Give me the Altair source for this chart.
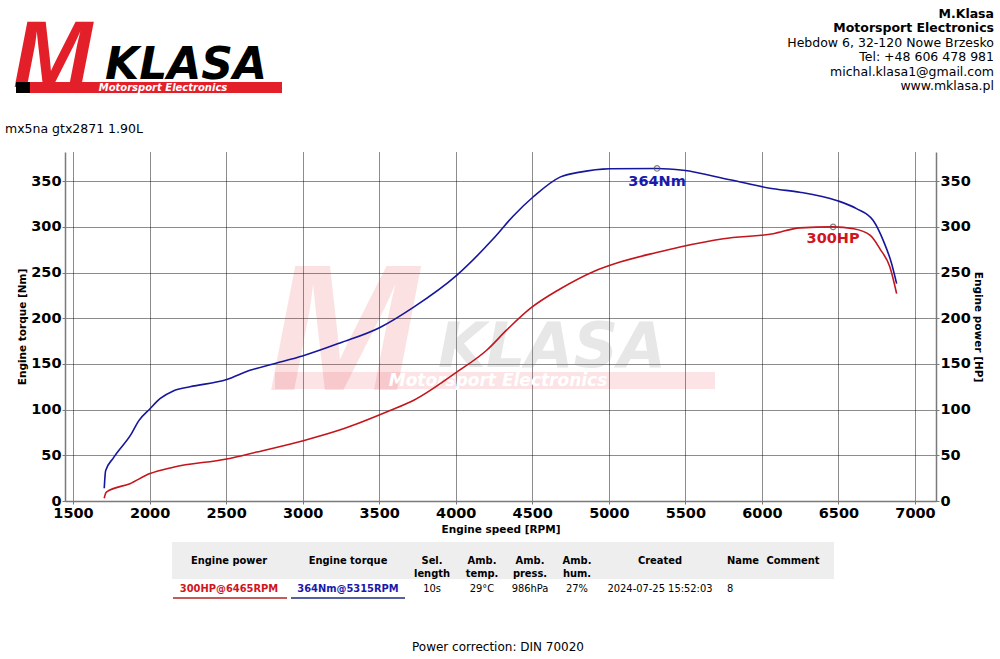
import altair as alt
import pandas as pd

# ---------------- data ----------------
rpm_torque = [1704, 1713, 1763, 1883, 1930, 2003, 2068, 2155, 2264, 2504, 2656, 2808, 3004, 3244,
              3505, 3723, 4006, 4245, 4376, 4507, 4681, 4812, 5007, 5315, 5486, 5791, 6074, 6248,
              6488, 6618, 6727, 6793, 6847, 6880]
torque_nm = [14, 33, 47, 74, 88, 101, 112, 120.5, 125, 133, 143, 150, 159, 173,
             190, 212, 247, 287, 312, 333, 354.5, 360, 363.6, 364, 362, 351.6, 341.7, 338,
             329, 320, 307, 285, 260, 238]

rpm_power = [1704, 1712, 1720, 1872, 2003, 2155, 2504, 2700, 3004, 3266, 3571, 3723, 4006, 4202,
             4332, 4485, 4681, 4898, 5073, 5312, 5465, 5748, 6074, 6248, 6465, 6599, 6708, 6771,
             6836, 6880]
power_hp = [3, 8, 10, 19, 30, 37, 46, 53.6, 66, 79, 99, 110, 141, 165,
            187, 210.5, 232, 251, 261.5, 272, 278, 287, 292.6, 299, 300, 298, 290.7, 276,
            256, 227]

peak_torque_rpm = [5315]
peak_torque_val = [364]
peak_torque_label = ["364Nm"]
peak_power_rpm = [6465]
peak_power_val = [300]
peak_power_label = ["300HP"]

x_ticks = [1500, 2000, 2500, 3000, 3500, 4000, 4500, 5000, 5500, 6000, 6500, 7000]
y_ticks = [0, 50, 100, 150, 200, 250, 300, 350]

header_bold = ["M.Klasa", "Motorsport Electronics"]
header_plain = ["Hebdow 6, 32-120 Nowe Brzesko", "Tel: +48 606 478 981",
                "michal.klasa1@gmail.com", "www.mklasa.pl"]
subtitle = "mx5na gtx2871 1.90L"
footer = "Power correction: DIN 70020"

table_headers = [["Engine power"], ["Engine torque"], ["Sel.", "length"], ["Amb.", "temp."],
                 ["Amb.", "press."], ["Amb.", "hum."], ["Created"], ["Name"], ["Comment"]]
table_values = ["300HP@6465RPM", "364Nm@5315RPM", "10s", "29°C", "986hPa", "27%",
                "2024-07-25 15:52:03", "8", ""]

# ---------------- layout ----------------
W, H = 871, 349
PL, PT = 65, 152
FONT = "DejaVu Sans"
FONT_C = "DejaVu Sans Condensed, DejaVu Sans"
BLUE = "#16169c"
RED = "#c3161c"
BLUE_T = "#1a1aaa"
RED_T = "#d0161c"

xscale = alt.Scale(domain=[1447.7, 7137.2], nice=False, zero=False)
yscale = alt.Scale(domain=[0, 382], nice=False, zero=True)

one = pd.DataFrame({"k": [0]})


def txt(s, px, py, **kw):
    return alt.Chart(one).mark_text(**kw).encode(
        x=alt.value(px - PL), y=alt.value(py - PT), text=alt.value(s))


def rect(x1, x2, y1, y2, **kw):
    return alt.Chart(one).mark_rect(**kw).encode(
        x=alt.value(x1 - PL), x2=alt.value(x2 - PL), y=alt.value(y1 - PT), y2=alt.value(y2 - PT))


def hrule(x1, x2, y, **kw):
    return alt.Chart(one).mark_rule(**kw).encode(
        x=alt.value(x1 - PL), x2=alt.value(x2 - PL), y=alt.value(y - PT))


common_axis = dict(labelFont=FONT, labelFontSize=14.5, labelFontWeight="bold", labelColor="black",
                   titleFont=FONT, titleFontSize=10.5, titleFontWeight="bold", titleColor="black",
                   domainColor="#7a7a7a", domainWidth=1.5, tickColor="#7a7a7a", tickSize=3,
                   labelOverlap=False, labelFlush=False, format="d")
grid_style = dict(grid=True, gridColor="#000000", gridDash=[1, 1], gridOpacity=0.9, gridWidth=1)

x_axis = alt.Axis(values=x_ticks, title="Engine speed [RPM]", labelPadding=2, titlePadding=5,
                  **common_axis, **grid_style)
y_left = alt.Axis(values=y_ticks, title="Engine torque [Nm]", orient="left", labelPadding=1,
                  titlePadding=3, **common_axis, **grid_style)
y_right = alt.Axis(values=y_ticks, title="Engine power [HP]", orient="right", labelPadding=1,
                   titlePadding=2, grid=False, titleAngle=90, **common_axis)

X = alt.X("rpm:Q", scale=xscale, axis=x_axis)

tq_df = pd.DataFrame({"rpm": rpm_torque, "tq": torque_nm})
hp_df = pd.DataFrame({"rpm": rpm_power, "hp": power_hp})
tq_peak = pd.DataFrame({"rpm": peak_torque_rpm, "tq": peak_torque_val, "lab": peak_torque_label})
hp_peak = pd.DataFrame({"rpm": peak_power_rpm, "hp": peak_power_val, "lab": peak_power_label})

layers = []

# watermark (behind everything)
WM_RED = "#e8313a"
layers.append(txt("M", 268, 390, fontSize=180, font="Liberation Sans", fontWeight="bold",
                  fontStyle="italic", color=WM_RED, opacity=0.14, align="left", baseline="alphabetic"))
layers.append(txt("KLASA", 552, 367, fontSize=62, font=FONT, fontWeight="bold", fontStyle="italic",
                  color="#8a8a8a", opacity=0.2, align="center", baseline="alphabetic"))
layers.append(rect(275, 715, 372, 389, color=WM_RED, opacity=0.13))
layers.append(txt("Motorsport   Electronics", 498, 381, fontSize=17, font=FONT, fontWeight="bold",
                  fontStyle="italic", color="white", align="center", baseline="middle"))

# curves
layers.append(alt.Chart(tq_df).mark_line(color=BLUE, strokeWidth=1.6, interpolate="monotone").encode(
    x=X, y=alt.Y("tq:Q", scale=yscale, axis=y_left)))
layers.append(alt.Chart(hp_df).mark_line(color=RED, strokeWidth=1.6, interpolate="monotone").encode(
    x=X, y=alt.Y("hp:Q", scale=yscale, axis=y_right)))

# peaks
layers.append(alt.Chart(tq_peak).mark_point(shape="circle", size=30, filled=False, color="#505050",
                                            strokeWidth=1.2).encode(
    x=X, y=alt.Y("tq:Q", scale=yscale, axis=None)))
layers.append(alt.Chart(tq_peak).mark_text(font=FONT, fontSize=14.5, fontWeight="bold", color=BLUE_T,
                                           dy=14, align="center", baseline="middle").encode(
    x=X, y=alt.Y("tq:Q", scale=yscale, axis=None), text="lab:N"))
layers.append(alt.Chart(hp_peak).mark_point(shape="circle", size=30, filled=False, color="#505050",
                                            strokeWidth=1.2).encode(
    x=X, y=alt.Y("hp:Q", scale=yscale, axis=None)))
layers.append(alt.Chart(hp_peak).mark_text(font=FONT, fontSize=14.5, fontWeight="bold", color=RED_T,
                                           dy=12, align="center", baseline="middle").encode(
    x=X, y=alt.Y("hp:Q", scale=yscale, axis=None), text="lab:N"))

# logo (top left)
LOGO_RED = "#e3202a"
layers.append(txt("M", 13, 87, fontSize=95, font="Liberation Sans", fontWeight="bold", fontStyle="italic",
                  color=LOGO_RED, align="left", baseline="alphabetic"))
layers.append(txt("KLASA", 186, 79, fontSize=44, font=FONT, fontWeight="bold", fontStyle="italic",
                  color="black", align="center", baseline="alphabetic"))
layers.append(rect(16, 34, 82, 93, color="black"))
layers.append(rect(30, 282, 82, 93, color=LOGO_RED))
layers.append(txt("Motorsport   Electronics", 163, 88, fontSize=10, font=FONT, fontWeight="bold",
                  fontStyle="italic", color="white", align="center", baseline="middle"))

# header text (top right)
layers.append(txt(header_bold, 994, 14, fontSize=12.5, font=FONT, fontWeight="bold", color="black",
                  align="right", baseline="middle", lineHeight=14.4))
layers.append(txt(header_plain, 994, 43, fontSize=12.5, font=FONT, color="black",
                  align="right", baseline="middle", lineHeight=14.4))
layers.append(txt(subtitle, 5, 129, fontSize=12.5, font=FONT, color="black", align="left",
                  baseline="middle"))

# table
col_x = [229, 348, 432, 482, 530, 577, 660, 743, 793]
layers.append(rect(172, 834, 542, 579, color="#eeeeee"))
for hdr, cx in zip(table_headers, col_x):
    layers.append(txt(hdr, cx, 561, fontSize=11, font=FONT_C, fontWeight="bold", color="black",
                      align="center", baseline="middle", lineHeight=13))
val_colors = [RED_T, BLUE_T] + ["black"] * 7
for i, (val, cx, colr) in enumerate(zip(table_values, col_x, val_colors)):
    if not val:
        continue
    if i == 7:
        layers.append(txt(val, 727, 589, fontSize=11, font=FONT_C, color=colr, align="left",
                          baseline="middle"))
    else:
        layers.append(txt(val, cx, 589, fontSize=11, font=FONT_C,
                          fontWeight="bold" if i < 2 else "normal", color=colr,
                          align="center", baseline="middle"))
layers.append(hrule(173, 287, 598, color="#c45a5a", strokeWidth=2))
layers.append(hrule(291, 405, 598, color="#56609e", strokeWidth=2))

layers.append(txt(footer, 498, 647, fontSize=12, font=FONT, color="black", align="center",
                  baseline="middle"))

chart = alt.layer(*layers).resolve_scale(y="independent").properties(
    width=W, height=H,
    autosize=alt.AutoSizeParams(type="none"),
    padding={"left": PL, "top": PT, "right": 1000 - PL - W, "bottom": 659 - PT - H},
    background="white",
).configure_view(stroke=None)

chart.save("out.html", embed_options={"renderer": "svg", "actions": False})
